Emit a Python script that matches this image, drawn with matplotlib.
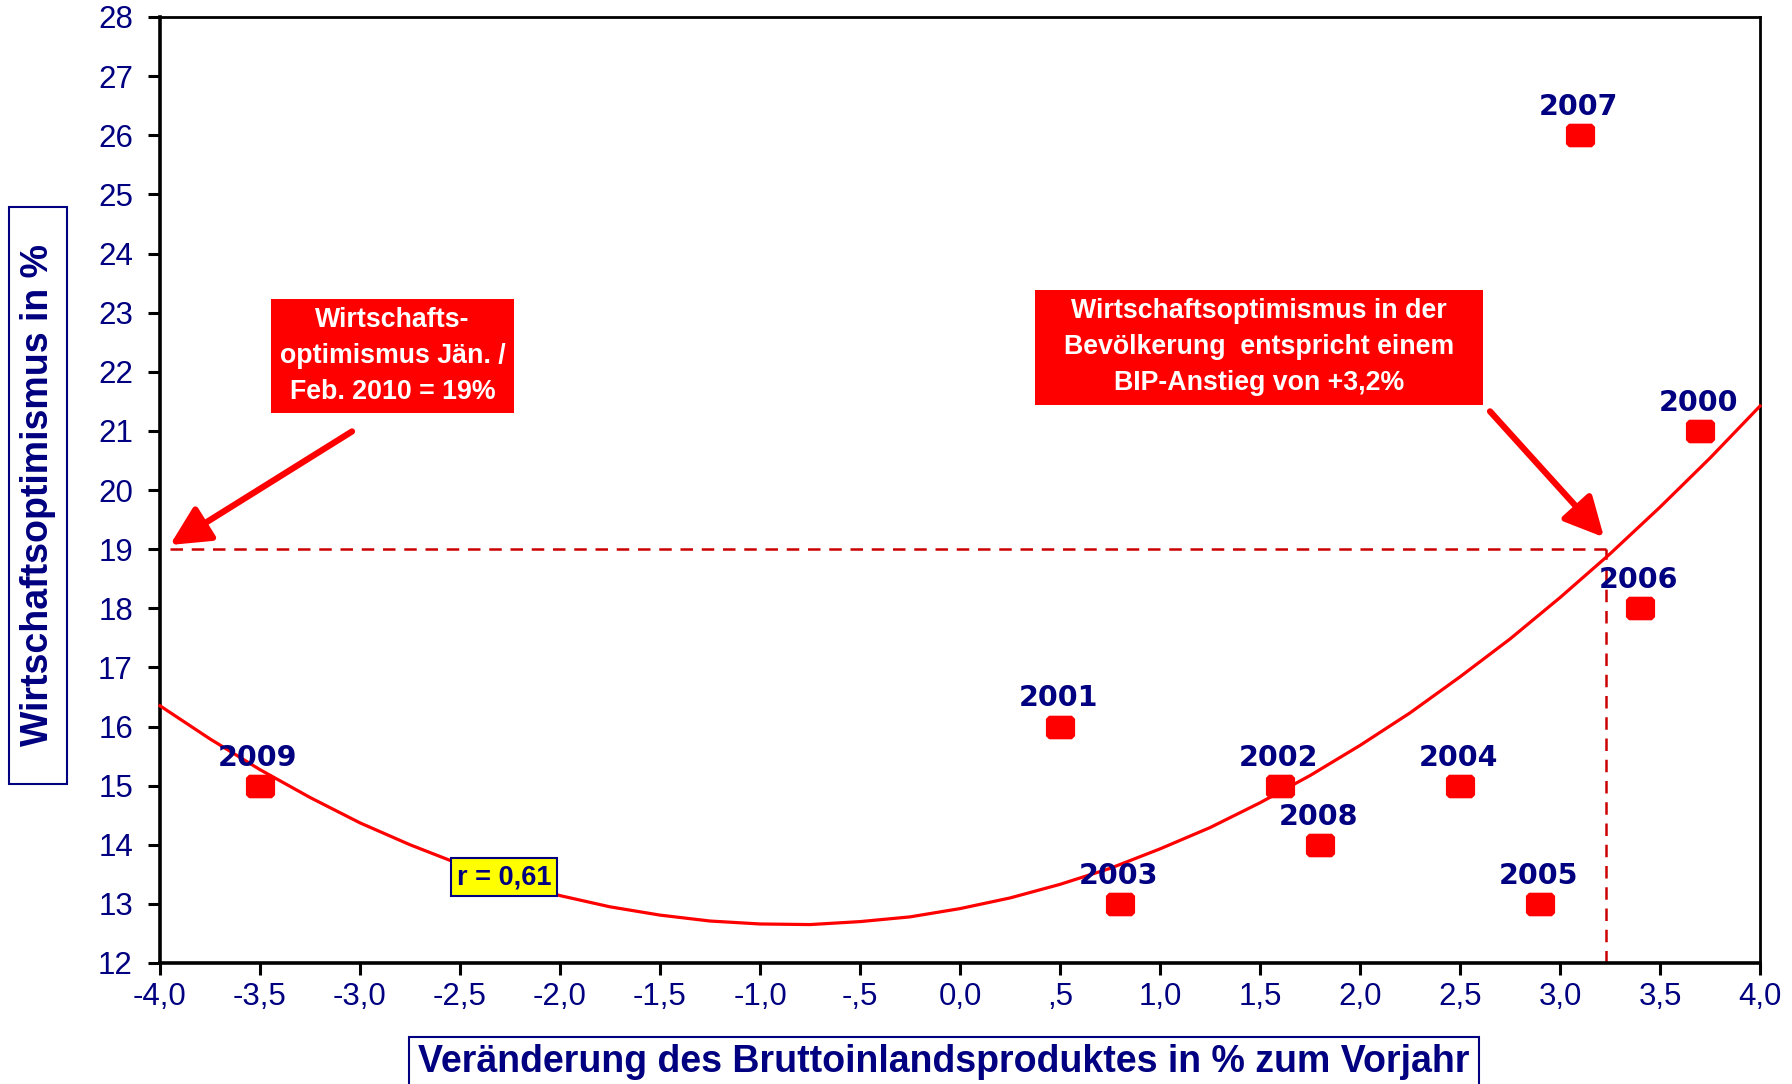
import matplotlib
matplotlib.use("Agg")
import matplotlib.pyplot as plt
from matplotlib.patches import Rectangle, FancyArrowPatch

# ---------------- data ----------------
years = ["2009", "2001", "2003", "2002", "2008", "2004", "2005", "2007", "2006", "2000"]
bip_change = [-3.5, 0.5, 0.8, 1.6, 1.8, 2.5, 2.9, 3.1, 3.4, 3.7]
optimism = [15, 16, 13, 15, 14, 15, 13, 26, 18, 21]

trend_x = [-4.0, -3.75, -3.5, -3.25, -3.0, -2.75, -2.5, -2.25, -2.0, -1.75, -1.5, -1.25,
           -1.0, -0.75, -0.5, -0.25, 0.0, 0.25, 0.5, 0.75, 1.0, 1.25, 1.5, 1.75, 2.0,
           2.25, 2.5, 2.75, 3.0, 3.25, 3.5, 3.75, 4.0]
trend_y = [16.35, 15.79, 15.27, 14.80, 14.37, 14.00, 13.67, 13.38, 13.14, 12.95, 12.81, 12.71,
           12.66, 12.65, 12.70, 12.78, 12.92, 13.10, 13.33, 13.60, 13.93, 14.29, 14.71, 15.17, 15.68,
           16.23, 16.84, 17.48, 18.18, 18.92, 19.71, 20.54, 21.42]

x_ticks = [-4.0, -3.5, -3.0, -2.5, -2.0, -1.5, -1.0, -0.5, 0.0, 0.5, 1.0, 1.5, 2.0, 2.5, 3.0, 3.5, 4.0]
x_tick_labels = ["-4,0", "-3,5", "-3,0", "-2,5", "-2,0", "-1,5", "-1,0", "-,5", "0,0", ",5",
                 "1,0", "1,5", "2,0", "2,5", "3,0", "3,5", "4,0"]
y_ticks = list(range(12, 29))

target_y = 19
target_x = 3.23
r_text = "r = 0,61"

NAVY = "#000080"
RED = "#FF0000"
DRED = "#CC0000"
BOLD = ["Liberation Sans", "DejaVu Sans"]

fig = plt.figure(figsize=(17.92, 10.84), dpi=100)
ax = fig.add_axes([160/1792, 1 - 963/1084, 1600/1792, 946/1084])

ax.set_xlim(-4, 4)
ax.set_ylim(12, 28)

# trend curve
ax.plot(trend_x, trend_y, color=RED, lw=2.3, zorder=3, clip_on=False)

# dashed helper lines
ax.plot([-3.95, target_x], [target_y, target_y], color=DRED, lw=1.8,
        dashes=(5, 3.5), zorder=2)
ax.plot([target_x, target_x], [12, target_y], color=DRED, lw=1.8,
        dashes=(5, 3.5), zorder=2)

# points (slightly wider than tall, rounded corners like the original)
c = 0.2
h = 0.8
rect_marker = [(-1.0 + c, -h), (1.0 - c, -h), (1.0, -h + c), (1.0, h - c),
               (1.0 - c, h), (-1.0 + c, h), (-1.0, h - c), (-1.0, -h + c),
               (-1.0 + c, -h)]
ax.plot(bip_change, optimism, linestyle="none", marker=rect_marker, markersize=20,
        color=RED, markeredgecolor=RED, zorder=4)
for yr, xv, yv in zip(years, bip_change, optimism):
    ax.annotate(yr, (xv, yv), xytext=(-2, 28), textcoords="offset pixels",
                ha="center", va="center", fontsize=20.5, fontweight="bold",
                color=NAVY, family=["DejaVu Sans"], zorder=5)

# ticks and spines
ax.set_xticks(x_ticks)
ax.set_xticklabels(x_tick_labels)
ax.set_yticks(y_ticks)
ax.set_yticklabels([str(v) for v in y_ticks])
ax.tick_params(axis="both", direction="out", length=8.5, width=2.2, colors="black",
               labelcolor=NAVY, labelsize=22.5)
ax.tick_params(axis="x", pad=5)
ax.tick_params(axis="y", pad=11)
for lab in ax.get_xticklabels() + ax.get_yticklabels():
    lab.set_family(["Liberation Sans", "DejaVu Sans"])
for sp in ["left", "bottom"]:
    ax.spines[sp].set_linewidth(2.6)
for sp in ["top", "right"]:
    ax.spines[sp].set_linewidth(2.0)

# r box
ax.text(-2.28, 13.45, r_text, ha="center", va="center", fontsize=19.5, fontweight="bold",
        color=NAVY, family=BOLD, zorder=6,
        bbox=dict(boxstyle="square,pad=0.22", facecolor="#FFFF00", edgecolor=NAVY, lw=1.5))

# red callout boxes (figure pixel coords)
def fig_rect(x0, y0, x1, y1, **kw):
    r = Rectangle((x0/1792, 1 - y1/1084), (x1 - x0)/1792, (y1 - y0)/1084,
                  transform=fig.transFigure, **kw)
    fig.patches.append(r)

fig_rect(271, 299, 514, 413, facecolor=RED, edgecolor="none", zorder=10)
fig.text(392.5/1792, 1 - 356/1084, "Wirtschafts-\noptimismus Jän. /\nFeb. 2010 = 19%",
         ha="center", va="center", fontsize=19.3, fontweight="bold", color="white",
         family=BOLD, linespacing=1.5, zorder=11)

fig_rect(1035, 290, 1483, 405, facecolor=RED, edgecolor="none", zorder=10)
fig.text(1259/1792, 1 - 347/1084,
         "Wirtschaftsoptimismus in der\nBevölkerung  entspricht einem\nBIP-Anstieg von +3,2%",
         ha="center", va="center", fontsize=19.3, fontweight="bold", color="white",
         family=BOLD, linespacing=1.5, zorder=11)

# arrows
for (x0, y0), (x1, y1) in [((-3.04, 20.99), (-3.95, 19.07)),
                           ((2.65, 21.33), (3.22, 19.2))]:
    arr = FancyArrowPatch((x0, y0), (x1, y1), arrowstyle="-|>,head_length=1.2,head_width=0.6",
                          mutation_scale=20, color=RED, lw=4.5, shrinkA=0, shrinkB=0,
                          zorder=6)
    ax.add_patch(arr)

# axis labels in boxes
fig_rect(9, 207, 67, 784, facecolor="white", edgecolor=NAVY, lw=1.5, zorder=10)
fig.text(38/1792, 1 - 495.5/1084, "Wirtschaftsoptimismus in %", rotation=90,
         ha="center", va="center", fontsize=27, fontweight="bold", color=NAVY,
         family=BOLD, zorder=11)

fig_rect(409, 1037, 1479, 1095, facecolor="white", edgecolor=NAVY, lw=1.5, zorder=10)
fig.text(944/1792, 1 - 1062/1084, "Veränderung des Bruttoinlandsproduktes in % zum Vorjahr",
         ha="center", va="center", fontsize=27, fontweight="bold", color=NAVY,
         family=BOLD, zorder=11)

fig.savefig("out.png", dpi=100, facecolor="white")
